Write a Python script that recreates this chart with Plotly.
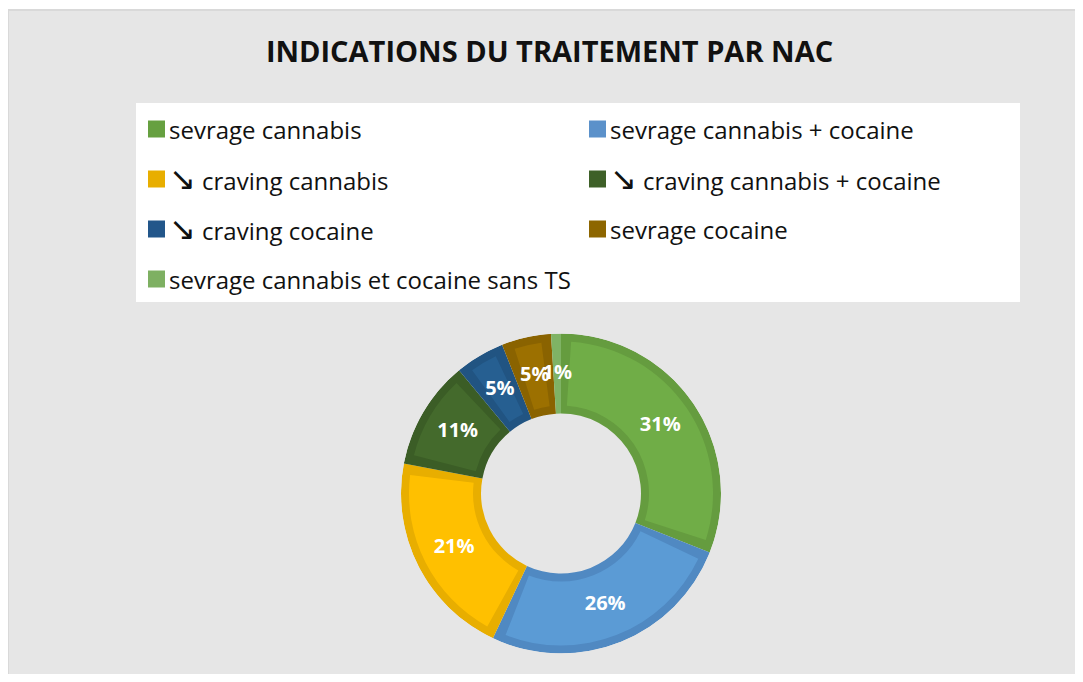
import plotly.graph_objects as go

# ---------------- data ----------------
title_text = "INDICATIONS DU TRAITEMENT PAR NAC"
labels = [
    "sevrage cannabis",
    "sevrage cannabis + cocaine",
    "\u2198 craving cannabis",
    "\u2198 craving cannabis + cocaine",
    "\u2198 craving cocaine",
    "sevrage cocaine",
    "sevrage cannabis et cocaine sans TS",
]
values = [31, 26, 21, 11, 5, 5, 1]
fill_colors = ["#70AD47", "#5B9BD5", "#FFC000", "#446A2C", "#265F91", "#9C7000", "#7FB365"]
edge_colors = ["#659C3F", "#5089C2", "#E8AE00", "#3B5D26", "#215482", "#8A6300", "#7FB365"]
legend_colors = ["#66A040", "#5B91CA", "#E8AE00", "#3E6028", "#22568A", "#8D6600", "#7EB062"]

# ---------------- geometry helpers ----------------
W, H = 1075, 666        # figure size (page offset 8px by body margin)
OX, OY = 8, 8


def px(x):
    return (x - OX) / W


def py(y):
    return 1 - (y - OY) / H


cx, cy = 561, 493.5     # donut centre on page
R_OUT, R_IN, BAND = 160, 80, 8


def domain(r):
    return dict(x=[px(cx - r), px(cx + r)], y=[py(cy + r), py(cy - r)])


total = sum(values)
deg = [v / total * 360 for v in values]
theta_mid, cum = [], 0
for d in deg:
    theta_mid.append(cum + d / 2)
    cum += d
pct_text = [f"{round(100 * v / total)}%" for v in values]

gap_deg = BAND / ((R_OUT + R_IN) / 2) * 180 / 3.14159265
inner_width = [max(d - 2 * gap_deg, 0) for d in deg]

fig = go.Figure()

# darker frame: full ring slices
fig.add_trace(go.Barpolar(
    r=[(R_OUT - R_IN) / R_OUT] * len(values), base=R_IN / R_OUT,
    theta=theta_mid, width=deg,
    marker=dict(color=edge_colors, line=dict(width=0)),
    text=labels, hovertemplate="%{text}<extra></extra>", showlegend=False,
))

# lighter inner part, inset by the frame band
fig.add_trace(go.Barpolar(
    r=[(R_OUT - R_IN - 2 * BAND) / R_OUT] * len(values), base=(R_IN + BAND) / R_OUT,
    theta=theta_mid, width=inner_width,
    marker=dict(color=fill_colors, line=dict(width=0)),
    hoverinfo="skip", showlegend=False,
))

# data labels at mid-ring on each slice bisector
fig.add_trace(go.Scatterpolar(
    r=[(R_IN + R_OUT) / 2 / R_OUT] * len(values), theta=theta_mid,
    mode="text", text=pct_text, textposition="middle center",
    textfont=dict(family="Open Sans", size=20, color="white", weight="bold"),
    hoverinfo="skip", showlegend=False,
))

shapes = [
    # grey chart area with light border
    dict(type="rect", xref="paper", yref="paper", x0=0, x1=1.02, y0=-0.02, y1=py(10),
         fillcolor="#E6E6E6", line=dict(color="#D9D9D9", width=2), layer="below"),
    # white legend box
    dict(type="rect", xref="paper", yref="paper", x0=px(136), x1=px(1020), y0=py(302), y1=py(103),
         fillcolor="white", line=dict(width=0), layer="below"),
]
annotations = []
col_sq_x = [148, 589]
row_y = [129, 179, 229, 279]
SQ = 17
for i, (lab, col) in enumerate(zip(labels, legend_colors)):
    r, c = divmod(i, 2)
    x0 = col_sq_x[c]
    yc = row_y[r]
    shapes.append(dict(type="rect", xref="paper", yref="paper",
                       x0=px(x0), x1=px(x0 + SQ), y0=py(yc + SQ / 2), y1=py(yc - SQ / 2),
                       fillcolor=col, line=dict(width=0)))
    txt = lab.replace("\u2198", "<span style='font-family:DejaVu Sans;font-size:32px'>\u2198</span>")
    annotations.append(dict(xref="paper", yref="paper", x=px(x0 + SQ + 2), y=py(yc),
                            xanchor="left", yanchor="middle", showarrow=False, text=txt,
                            font=dict(family="Open Sans", size=24, color="#111111")))

fig.update_layout(
    width=W, height=H,
    margin=dict(l=0, r=0, t=0, b=0),
    paper_bgcolor="white",
    title=dict(text=title_text, x=px(549.5), xanchor="center", y=py(52), yanchor="middle",
               font=dict(family="Open Sans", size=29, color="#111111", weight="bold")),
    polar=dict(
        domain=domain(R_OUT),
        bgcolor="rgba(0,0,0,0)",
        radialaxis=dict(visible=False, range=[0, 1], showgrid=False),
        angularaxis=dict(visible=False, rotation=90, direction="clockwise", showgrid=False),
        bargap=0,
    ),
    shapes=shapes,
    annotations=annotations,
    showlegend=False,
)

fig.write_html("out.html")
